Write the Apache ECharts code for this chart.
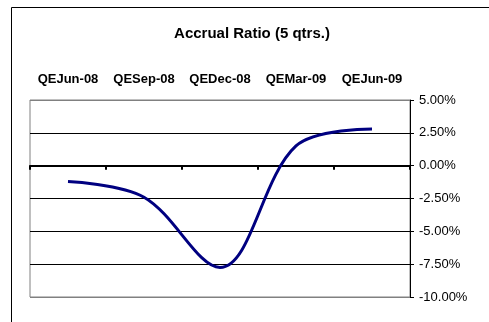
<!DOCTYPE html>
<html><head><meta charset="utf-8">
<script src="https://cdn.jsdelivr.net/npm/echarts@6/dist/echarts.min.js"></script>
<style>html,body{margin:0;padding:0;background:#fff}#c{width:489px;height:322px}</style>
</head><body><div id="c"></div>
<script>
const categories = ['QEJun-08','QESep-08','QEDec-08','QEMar-09','QEJun-09'];
const accrualRatio = [-1.2, -2.4, -7.75, 1.5, 2.8];
const yTicks = [-10, -7.5, -5, -2.5, 0, 2.5, 5];
const titleText = 'Accrual Ratio (5 qtrs.)';

const chart = echarts.init(document.getElementById('c'), null, {renderer:'canvas'});
const font = '"Liberation Sans", Arial, sans-serif';
chart.setOption({
  animation:false,
  backgroundColor:'#fff',
  graphic:[
    {type:'rect', shape:{x:11.5, y:7.5, width:600, height:400}, style:{fill:'none', stroke:'#000', lineWidth:1}, silent:true},
    {type:'text', x:252, y:34, style:{text:titleText, align:'center', verticalAlign:'middle', font:'bold 15px "Liberation Sans", Arial, sans-serif', fill:'#000'}, silent:true}
  ],
  grid:{left:30, right:79, top:100, bottom:25, show:true, borderColor:'#808080', borderWidth:1},
  xAxis:[
    {type:'category', data:categories, position:'top', boundaryGap:true,
     axisLine:{show:false}, axisTick:{show:false},
     axisLabel:{interval:0, hideOverlap:false, margin:14, fontFamily:font, fontSize:13, fontWeight:'bold', color:'#000'}},
    {type:'category', data:categories, position:'bottom', boundaryGap:true,
     axisLine:{show:true, onZero:true, onZeroAxisIndex:0, lineStyle:{color:'#000', width:2}},
     axisTick:{show:true, interval:0, length:4, lineStyle:{color:'#000', width:2}},
     axisLabel:{show:false}}
  ],
  yAxis:{type:'value', position:'right', min:yTicks[0], max:yTicks[yTicks.length-1], interval:2.5,
    axisLine:{show:true, lineStyle:{color:'#000', width:1}},
    axisTick:{show:true, length:4, lineStyle:{color:'#000'}},
    axisLabel:{margin:9, fontFamily:font, fontSize:13, color:'#000', formatter:v=>v.toFixed(2)+'%'},
    splitLine:{show:true, lineStyle:{color:['#808080','#000','#000','#000','#000','#000','#808080'], width:1}}
  },
  series:[{type:'line', xAxisIndex:0, data:accrualRatio, smooth:0.35, symbol:'none',
    lineStyle:{color:'#000080', width:3}}]
});
</script></body></html>
